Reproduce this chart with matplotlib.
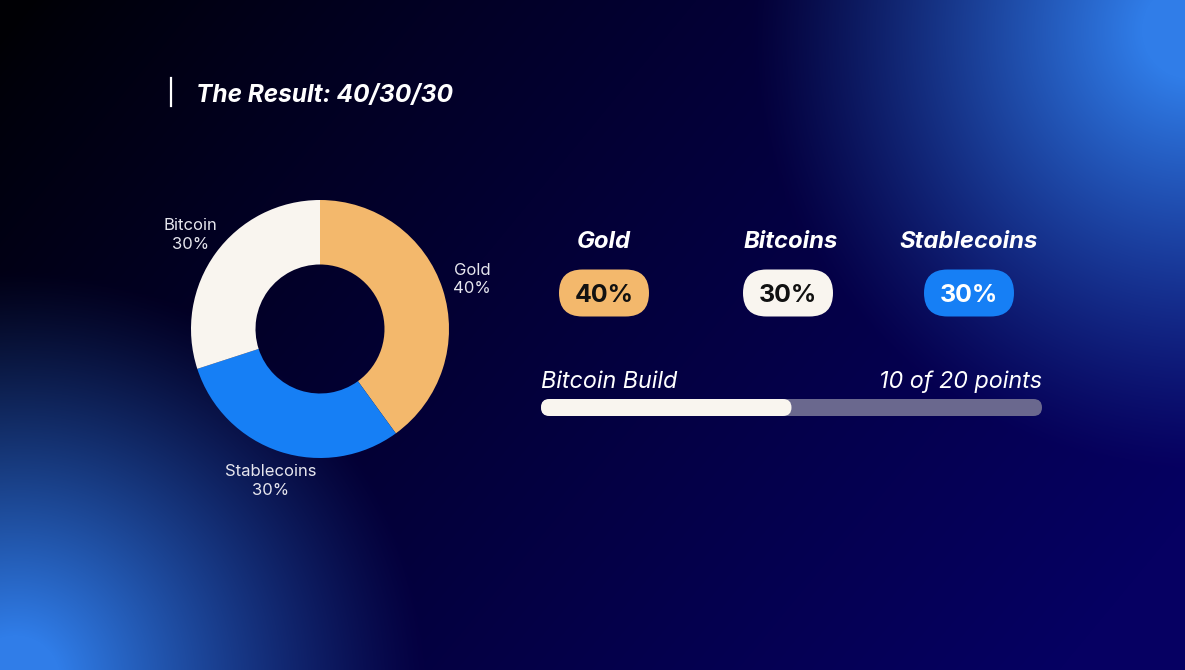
import numpy as np
import matplotlib
matplotlib.use("Agg")
import matplotlib.pyplot as plt
from matplotlib.patches import FancyBboxPatch

plt.rcParams['font.family'] = ['Inter', 'DejaVu Sans']

# data
title = "The Result: 40/30/30"
pie_labels = ["Gold", "Stablecoins", "Bitcoin"]
pie_shares = [40, 30, 30]
pie_colors = ["#f3b86c", "#167ff5", "#f9f5ef"]

pill_names = ["Gold", "Bitcoins", "Stablecoins"]
pill_values = [40, 30, 30]
pill_colors = ["#f3b86c", "#f9f5ef", "#167ff5"]
pill_text_colors = ["#111111", "#111111", "#ffffff"]

build_label = "Bitcoin Build"
build_points = 10
build_total = 20

W, H = 1185, 670
fig = plt.figure(figsize=(W / 100, H / 100), dpi=100)
ax = fig.add_axes([0, 0, 1, 1])

# background gradient with two blue glows
yy, xx = np.mgrid[0:H, 0:W].astype(float)
t = np.clip(0.75 * xx / W + 0.35 * yy / H - 0.02, 0, 1) ** 0.8
c0 = np.array([0, 0, 4]) / 255
c1 = np.array([6, 0, 98]) / 255
img = c0 * (1 - t[..., None]) + c1 * t[..., None]
glow = np.array([48, 125, 232]) / 255
for gx, gy, r, p in [(1190, 30, 440, 1.2), (15, 680, 410, 1.2)]:
    d = np.hypot(xx - gx, yy - gy)
    a = np.clip(1 - d / r, 0, 1) ** p
    a = np.clip(a * 1.15, 0, 1)
    img = img * (1 - a[..., None]) + glow * a[..., None]
ax.imshow(img, extent=(0, W, 0, H), origin="upper", zorder=0)

# donut
cx, cy, R = 320, H - 329, 129
wedges, texts = ax.pie(pie_shares, colors=pie_colors, startangle=90, counterclock=False,
                       radius=R, center=(cx, cy), labeldistance=1.24,
                       labels=[f"{l}\n{v}%" for l, v in zip(pie_labels, pie_shares)],
                       wedgeprops=dict(width=R * 0.5, linewidth=0),
                       textprops=dict(color="#e6e6ee", fontsize=12, linespacing=1.3))
for tx in texts:
    tx.set_ha("center")
    tx.set_va("center")

ax.set_xlim(0, W)
ax.set_ylim(0, H)
ax.set_aspect("equal")
ax.axis("off")

# title
ax.plot([171, 171], [H - 106, H - 78], color="white", lw=1.6, zorder=3)
ax.text(196, H - 102, title, color="white", fontsize=17.6, fontweight="bold",
        fontstyle="italic", va="baseline", ha="left")

# pills
pill_x = [604, 788, 969]
head_x = [604, 791, 969]
pw, ph = 90, 47
for i, name in enumerate(pill_names):
    ax.text(head_x[i], H - 248, name, color="white", fontsize=17.2, fontweight="bold",
            fontstyle="italic", ha="center", va="baseline")
    pcy = H - 293
    ax.add_patch(FancyBboxPatch((pill_x[i] - pw / 2, pcy - ph / 2), pw, ph,
                                boxstyle=f"round,pad=0,rounding_size={ph / 2}",
                                fc=pill_colors[i], ec="none", zorder=3))
    ax.text(pill_x[i], pcy - 9.5, f"{pill_values[i]}%", color=pill_text_colors[i],
            fontsize=18, fontweight="bold", ha="center", va="baseline", zorder=4)

# progress bar
bx0, bx1, by, bh = 541, 1042, H - 416, 17
ax.add_patch(FancyBboxPatch((bx0, by), bx1 - bx0, bh,
                            boxstyle=f"round,pad=0,rounding_size={bh / 2}",
                            fc="#6a688e", ec="none", zorder=3))
fill_w = (bx1 - bx0) * build_points / build_total
ax.add_patch(FancyBboxPatch((bx0, by), fill_w, bh,
                            boxstyle=f"round,pad=0,rounding_size={bh / 2}",
                            fc="#f9f5ef", ec="none", zorder=4))
ax.text(bx0, H - 388, build_label, color="white", fontsize=16.8, fontstyle="italic",
        ha="left", va="baseline")
ax.text(bx1, H - 388, f"{build_points} of {build_total} points", color="white",
        fontsize=16.8, fontstyle="italic", ha="right", va="baseline")

fig.savefig("out.png", dpi=100)
